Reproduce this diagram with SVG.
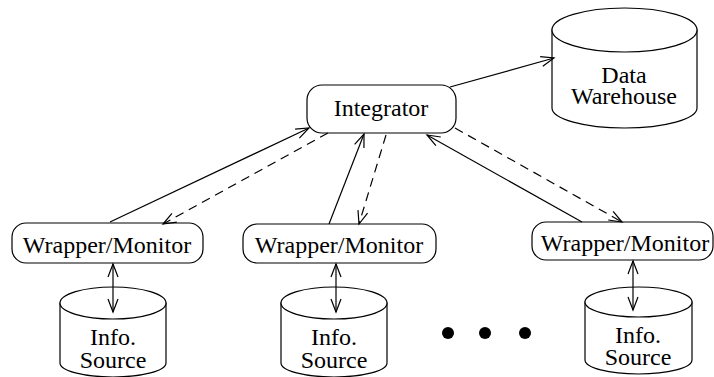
<svg xmlns="http://www.w3.org/2000/svg" width="714" height="377" viewBox="0 0 714 377">
<defs>
<style>
.box{fill:#fff;stroke:#000;stroke-width:1.2}
.cyl{fill:#fff;stroke:#000;stroke-width:1.2}
.t{font-family:"Liberation Serif","Times New Roman",serif;font-size:24px;fill:#000;text-anchor:middle}
.c{stroke:#000;stroke-width:1.2;fill:none}
.d{stroke-dasharray:9,6}
</style>
<marker id="a" viewBox="-14 -7 16 14" markerWidth="16" markerHeight="14" refX="0" refY="0" orient="auto-start-reverse" markerUnits="userSpaceOnUse">
<path d="M-13,-5 L0,0 L-13,5" fill="none" stroke="#000" stroke-width="1.2"/>
</marker>
</defs>
<rect width="714" height="377" fill="#fff"/>
<g id="integrator">
<rect class="box" x="307" y="85" width="149" height="48" rx="15"/>
<text class="t" x="381" y="116">Integrator</text>
</g>
<g id="warehouse">
<path class="cyl" d="M552,30 L552,108 A72.5,20 0 0 0 697,108 L697,30 Z"/>
<ellipse class="cyl" cx="624.5" cy="30" rx="72.5" ry="22"/>
<text class="t" x="624" y="83">Data</text>
<text class="t" x="624" y="104">Warehouse</text>
</g>
<g id="wm1">
<rect class="box" x="12" y="223" width="191" height="40" rx="14"/>
<text class="t" x="107" y="253">Wrapper/Monitor</text>
</g>
<g id="wm2">
<rect class="box" x="243" y="224" width="193" height="39" rx="14"/>
<text class="t" x="339" y="253">Wrapper/Monitor</text>
</g>
<g id="wm3">
<rect class="box" x="532" y="222" width="181" height="38" rx="14"/>
<text class="t" x="625" y="251">Wrapper/Monitor</text>
</g>
<g id="src1">
<path class="cyl" d="M60,303 L60,363 A53,14 0 0 0 166,363 L166,303 Z"/>
<ellipse class="cyl" cx="113" cy="303" rx="53" ry="16"/>
<text class="t" x="113" y="345">Info.</text>
<text class="t" x="113" y="368">Source</text>
</g>
<g id="src2">
<path class="cyl" d="M281,303 L281,363 A53,14 0 0 0 387,363 L387,303 Z"/>
<ellipse class="cyl" cx="334" cy="303" rx="53" ry="16"/>
<text class="t" x="334" y="345">Info.</text>
<text class="t" x="334" y="368">Source</text>
</g>
<g id="src3">
<path class="cyl" d="M585,302 L585,360 A53.5,14 0 0 0 692,360 L692,302 Z"/>
<ellipse class="cyl" cx="638.5" cy="302" rx="53.5" ry="15"/>
<text class="t" x="638" y="343">Info.</text>
<text class="t" x="638" y="365">Source</text>
</g>
<g id="dots">
<circle cx="448" cy="333" r="6"/>
<circle cx="485" cy="333" r="6"/>
<circle cx="525" cy="333" r="6"/>
</g>
<g id="connectors">
<line class="c" x1="450" y1="87" x2="554" y2="58" marker-end="url(#a)"/>
<line class="c" x1="110" y1="222" x2="309" y2="128" marker-end="url(#a)"/>
<line class="c d" x1="328" y1="133" x2="163" y2="224" marker-end="url(#a)"/>
<line class="c" x1="329" y1="224" x2="364" y2="134" marker-end="url(#a)"/>
<line class="c d" x1="386" y1="135" x2="359" y2="224" marker-end="url(#a)"/>
<line class="c" x1="582" y1="222" x2="427" y2="135" marker-end="url(#a)"/>
<line class="c d" x1="455" y1="128" x2="622" y2="222" marker-end="url(#a)"/>
<line class="c" x1="113" y1="264" x2="113" y2="312" marker-start="url(#a)" marker-end="url(#a)"/>
<line class="c" x1="336" y1="264" x2="336" y2="312" marker-start="url(#a)" marker-end="url(#a)"/>
<line class="c" x1="633" y1="261" x2="633" y2="310" marker-start="url(#a)" marker-end="url(#a)"/>
</g>
</svg>
